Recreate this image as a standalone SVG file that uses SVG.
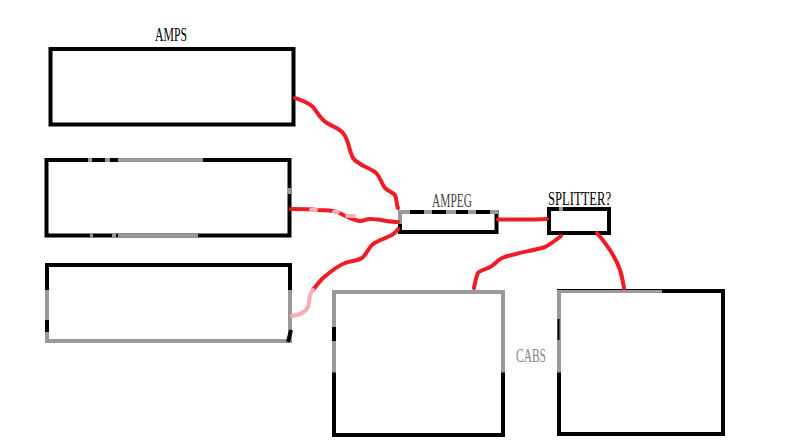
<svg xmlns="http://www.w3.org/2000/svg" width="800" height="441" viewBox="0 0 800 441">
<style>
.box{fill:#fff;stroke:#000;stroke-width:4}
.fade{fill:none;stroke:#999;stroke-width:4}
.ink{fill:none;stroke:#000;stroke-width:4}
.wire{fill:none;stroke:#ee1c25;stroke-width:4;stroke-linecap:round;stroke-linejoin:round}
.wirepale{fill:none;stroke:#f9aeb2;stroke-width:4;stroke-linecap:round;stroke-linejoin:round}
.label{font-family:"Liberation Serif","Noto Sans CJK TC",serif;font-size:18px;fill:#000}
</style>
<rect width="800" height="441" fill="#fff"/>
<g id="amp1">
<rect class="box" x="50.500" y="49" width="243" height="75.500"/>
<text class="label" x="155" y="41" textLength="32" lengthAdjust="spacingAndGlyphs">AMPS</text>
</g>
<g id="amp2">
<rect class="box" x="46.500" y="160" width="243" height="75.500"/>
<path class="fade" d="M118 160H203M118 235.500H198M88 160H92M105 160H110M90 235.500H93M112 235.500H116M289 188V194"/>
</g>
<g id="amp3">
<rect class="box" x="47" y="265" width="243" height="76"/>
<path class="fade" d="M47 290V341H290V290"/>
<path class="ink" d="M47 320V332M288 342L291 330"/>
</g>
<g id="ampeg">
<rect class="box" x="400" y="212" width="96.500" height="20"/>
<path class="fade" d="M398 212H410M424 212H432M446 212H456M468 212H476M490 212H498M400 212V224"/>
<text class="label" x="432" y="207" textLength="40" lengthAdjust="spacingAndGlyphs" style="fill:#444">AMPEG</text>
</g>
<g id="splitter">
<rect class="box" x="549" y="209" width="60" height="24"/>
<path class="fade" d="M559 209H563"/>
<text class="label" x="548" y="205" textLength="63" lengthAdjust="spacingAndGlyphs">SPLITTER?</text>
</g>
<g id="cab1">
<rect class="box" x="334" y="292" width="169" height="143"/>
<path class="fade" d="M334 372.500V292H503V372.500"/>
<path class="ink" d="M334 327V341"/>
</g>
<g id="cab2">
<rect class="box" x="559" y="291" width="164" height="143"/>
<path class="fade" d="M559 372.500V291H662"/>
<path class="ink" d="M558.500 319V340" style="stroke-width:2"/>
<path class="ink" d="M557 289.500H662" style="stroke-width:1"/>
</g>
<text class="label" x="516" y="362" textLength="30" lengthAdjust="spacingAndGlyphs" style="fill:#888">CABS</text>
<g id="connectors">
<path class="wire" d="M295 98C303 101 309 103 313 107C318 113 320 119 327 123C333 127 339 128 343 133C349 140 349 151 353 158C358 165 368 167 375 172C380 176 381 183 385 188C388 191 392 192 395 195C397 199 396 204 398 208"/>
<path class="wire" d="M291 209C300 209 309 209 317 210C325 210 331 210 337 212C345 215 351 220 360 221C364 221 366 219 370 219C380 219 388 222 398 222"/>
<path class="wirepale" d="M311 210H316M334 212H338M347 216H354"/>
<path class="wire" d="M398 229C396 232 395 233 392 235C386 238 379 240 373 244C368 248 367 254 362 258C357 261 351 261 345 263C337 266 330 272 323 278C319 282 316 286 313 290"/>
<path class="wirepale" d="M313 290C308 295 310 302 308 307C305 313 299 315 292 316"/>
<path class="wire" d="M498 219.500C515 219.500 530 220 547 219"/>
<path class="wire" d="M561 236C556 240 551 244 545 247C532 251 515 253 502 258C496 261 494 266 488 268C484 270 480 270 478 273C476 277 475 283 474 288"/>
<path class="wire" d="M597 233C603 240 609 248 613 255C616 260 618 264 620 270C622 276 623 282 624 288"/>
</g>
</svg>
